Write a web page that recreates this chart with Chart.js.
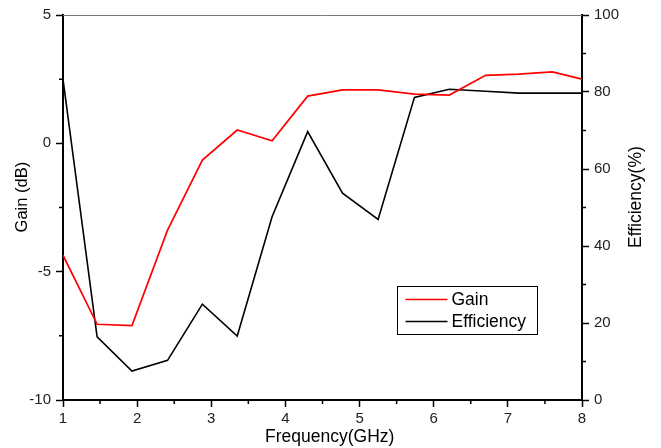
<!DOCTYPE html>
<html>
<head>
<meta charset="utf-8">
<script src="https://cdn.jsdelivr.net/npm/chart.js@4/dist/chart.umd.min.js"></script>
<style>
  html, body { margin: 0; padding: 0; background: #fff; }
  #wrap { width: 661px; height: 448px; }
</style>
</head>
<body>
<div id="wrap"><canvas id="myChart" width="661" height="448"></canvas></div>
<script>
// data
const freq = [1, 1.46, 1.93, 2.41, 2.88, 3.35, 3.82, 4.3, 4.77, 5.25, 5.74, 6.21, 6.7, 7.15, 7.6, 8];
const gain = [-4.36, -7.05, -7.1, -3.38, -0.65, 0.52, 0.1, 1.84, 2.08, 2.08, 1.92, 1.88, 2.65, 2.7, 2.78, 2.5];
const efficiency = [83.3, 16.4, 7.5, 10.3, 24.9, 16.6, 47.6, 69.7, 53.7, 46.9, 78.6, 80.7, 80.2, 79.7, 79.7, 79.7];
const xTicks = [1, 2, 3, 4, 5, 6, 7, 8];
const gainTicks = [-10, -5, 0, 5];
const effTicks = [0, 20, 40, 60, 80, 100];

const FONT = "'Liberation Sans', Arial, sans-serif";

// minor ticks, top frame, axis titles (Origin style) and boxed legend
const extras = {
  id: "extras",
  afterDraw(chart) {
    const ctx = chart.ctx;
    const ca = chart.chartArea;
    const sx = chart.scales.x, sy = chart.scales.y, sy1 = chart.scales.y1;
    const w = ca.right - ca.left, h = ca.bottom - ca.top;
    ctx.save();
    // top frame
    ctx.strokeStyle = "#777";
    ctx.lineWidth = 1;
    ctx.beginPath();
    ctx.moveTo(ca.left, ca.top + 0.5);
    ctx.lineTo(ca.right, ca.top + 0.5);
    ctx.stroke();
    // minor ticks
    ctx.strokeStyle = "#000";
    ctx.lineWidth = 1.5;
    ctx.beginPath();
    for (let i = 0; i < xTicks.length - 1; i++) {
      const px = sx.getPixelForValue(xTicks[i] + 0.5);
      ctx.moveTo(px, ca.bottom);
      ctx.lineTo(px, ca.bottom + 4);
    }
    for (let i = 0; i < gainTicks.length - 1; i++) {
      const py = sy.getPixelForValue(gainTicks[i] + 2.5);
      ctx.moveTo(ca.left, py);
      ctx.lineTo(ca.left - 4, py);
    }
    for (let i = 0; i < effTicks.length - 1; i++) {
      const py = sy1.getPixelForValue(effTicks[i] + 10);
      ctx.moveTo(ca.right, py);
      ctx.lineTo(ca.right + 4, py);
    }
    ctx.stroke();

    // axis titles
    ctx.fillStyle = "#000";
    ctx.textAlign = "center";
    ctx.textBaseline = "middle";
    const midY = ca.top + 0.473 * h;
    ctx.font = "16.5px " + FONT;
    ctx.save();
    ctx.translate(22, midY);
    ctx.rotate(-Math.PI / 2);
    ctx.fillText("Gain (dB)", 0, 0);
    ctx.restore();
    ctx.font = "17.5px " + FONT;
    ctx.save();
    ctx.translate(ca.right + 54, midY);
    ctx.rotate(-Math.PI / 2);
    ctx.fillText("Efficiency(%)", 0, 0);
    ctx.restore();
    ctx.fillText("Frequency(GHz)", ca.left + 0.514 * w, ca.bottom + 37);

    // legend
    ctx.textAlign = "left";
    const bx = Math.round(ca.left + 0.6435 * w) + 0.5;
    const by = Math.round(ca.top + 0.704 * h) + 0.5;
    ctx.lineWidth = 1;
    ctx.strokeStyle = "#000";
    ctx.strokeRect(bx, by, 140, 48);
    ctx.font = "17.5px " + FONT;
    chart.data.datasets.forEach((ds, i) => {
      const ly = by + 13 + i * 22;
      ctx.strokeStyle = ds.borderColor;
      ctx.lineWidth = 1.6;
      ctx.beginPath();
      ctx.moveTo(bx + 8, ly);
      ctx.lineTo(bx + 50, ly);
      ctx.stroke();
      ctx.fillText(ds.label, bx + 54, ly + 1);
    });
    ctx.restore();
  },
};

const ctx = document.getElementById("myChart");
new Chart(ctx, {
  type: "line",
  plugins: [extras],
  data: {
    datasets: [
      {
        label: "Gain",
        data: freq.map((f, i) => ({ x: f, y: gain[i] })),
        borderColor: "#ff0000",
        borderWidth: 1.7,
        pointRadius: 0,
        yAxisID: "y",
      },
      {
        label: "Efficiency",
        data: freq.map((f, i) => ({ x: f, y: efficiency[i] })),
        borderColor: "#000000",
        borderWidth: 1.6,
        pointRadius: 0,
        yAxisID: "y1",
      },
    ],
  },
  options: {
    responsive: false,
    animation: false,
    layout: { padding: { top: 15, left: 0, right: 0, bottom: 0 } },
    plugins: { legend: { display: false }, tooltip: { enabled: false } },
    scales: {
      x: {
        type: "linear",
        min: 1,
        max: 8,
        afterBuildTicks: (s) => { s.ticks = xTicks.map((v) => ({ value: v })); },
        afterFit: (s) => { s.height = 48; },
        ticks: { color: "#222", font: { family: FONT, size: 15 }, padding: 3, autoSkip: false, maxRotation: 0 },
        grid: { drawOnChartArea: false, tickLength: 7, tickColor: "#000", tickWidth: 1.5 },
        border: { color: "#000", width: 2 },
      },
      y: {
        position: "left",
        min: -10,
        max: 5,
        afterBuildTicks: (s) => { s.ticks = gainTicks.map((v) => ({ value: v })); },
        afterFit: (s) => { s.width = 63; },
        ticks: { color: "#222", font: { family: FONT, size: 15 }, padding: 5 },
        grid: { drawOnChartArea: false, tickLength: 7, tickColor: "#000", tickWidth: 1.5 },
        border: { color: "#000", width: 2 },
      },
      y1: {
        position: "right",
        min: 0,
        max: 100,
        afterBuildTicks: (s) => { s.ticks = effTicks.map((v) => ({ value: v })); },
        afterFit: (s) => { s.width = 79; },
        ticks: { color: "#222", font: { family: FONT, size: 15 }, padding: 5 },
        grid: { drawOnChartArea: false, tickLength: 7, tickColor: "#000", tickWidth: 1.5 },
        border: { color: "#000", width: 2 },
      },
    },
  },
});
</script>
</body>
</html>
